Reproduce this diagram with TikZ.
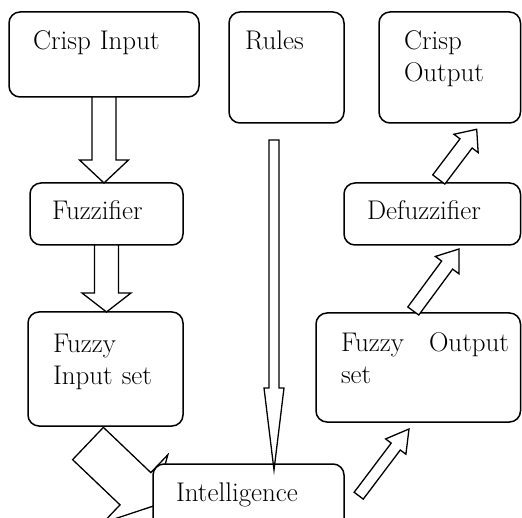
\documentclass[tikz,border=0pt]{standalone}
\usetikzlibrary{calc,backgrounds}

\tikzset{
  blockarrow/.style n args={3}{draw, line width=1.3pt, fill=white, line join=miter,
    to path={
      let \p1=(\tikztostart), \p2=(\tikztotarget),
          \n1={atan2(\y2-\y1,\x2-\x1)} in
      ($(\p1)+(\n1+90:#1)$) -- ($(\p2)!#3!(\p1)+(\n1+90:#1)$)
      -- ($(\p2)!#3!(\p1)+(\n1+90:#2)$) -- (\p2)
      -- ($(\p2)!#3!(\p1)+(\n1-90:#2)$) -- ($(\p2)!#3!(\p1)+(\n1-90:#1)$)
      -- ($(\p1)+(\n1-90:#1)$) -- cycle}}
}

\begin{document}
\begin{tikzpicture}[x=1pt,y=-1pt]

  \tikzstyle{box} = [draw, line width=1.5pt, rounded corners=11pt, fill=white,
    anchor=north west, inner ysep=0pt, outer sep=0pt, align=left,
    font=\fontsize{27}{32}\selectfont]

  \useasboundingbox (0,0) rectangle (522,518);
  \clip (0,0) rectangle (522,518);

  \node[box, inner xsep=24pt, text width=142pt, text height=38pt, text depth=47pt] (CI) at (9,12) {Crisp Input};
  \node[box, inner xsep=16pt, text width=83pt, text height=38pt, text depth=73pt] (R) at (229,12) {Rules};
  \node[box, inner xsep=25pt, text width=91.5pt, text height=38pt, text depth=73pt] (CO) at (379,12) {Crisp\\Output};

  \node[box, inner xsep=22pt, text width=109pt, text height=37pt, text depth=25pt] (FZ) at (30,183) {Fuzzifier};
  \node[box, inner xsep=23pt, text width=130.5pt, text height=37pt, text depth=25pt] (DF) at (344,183) {Defuzzifier};

  \node[box, inner xsep=25pt, text width=105pt, text height=41pt, text depth=73pt] (FI) at (28,312) {Fuzzy\\Input set};
  \node[box, inner xsep=25pt, text width=154.5pt, text height=39pt, text depth=70pt] (FO) at (316,313) {\makebox[168pt][l]{Fuzzy\hfill Output}\\set};

  \node[box, inner xsep=23pt, text width=145pt, text height=37pt, text depth=40pt] (IN) at (153,464) {Intelligence};

  \coordinate (FIout) at ($(FI.south)+(-17.5,17.5)$);
  \coordinate (INin) at ($(IN.north west)+(0.5,42)$);
  \coordinate (Rout) at ($(R.south west)+(45,17)$);
  \coordinate (INout) at ($(IN.north east)+(14.7,31.7)$);
  \coordinate (FOin) at ($(FO.south west)+(93,7)$);
  \coordinate (FOout) at ($(FO.north west)+(97.3,-2)$);
  \coordinate (DFin) at ($(DF.south west)+(115,4)$);
  \coordinate (DFout) at ($(DF.north west)+(94.8,-3.5)$);
  \coordinate (COin) at ($(CO.south west)+(97.7,6.3)$);

  \draw[blockarrow={12pt}{24.5pt}{23pt}] (CI.south) to (CI.south |- FZ.north);
  \draw[blockarrow={12pt}{24.5pt}{19pt}] (FZ.south) to (FZ.south |- FI.north);

  \begin{pgfonlayer}{background}
    \draw[blockarrow={22.3pt}{47pt}{25pt}] (FIout) to (INin);
  \end{pgfonlayer}

  \draw[blockarrow={5pt}{10pt}{82pt}] (Rout) to ($(Rout |- IN.north)+(0,6)$);
  \draw[blockarrow={5.7pt}{12.7pt}{22pt}] (INout) to (FOin);
  \draw[blockarrow={6.8pt}{14.6pt}{20pt}] (FOout) to (DFin);
  \draw[blockarrow={7.6pt}{15.2pt}{17.7pt}] (DFout) to (COin);

\end{tikzpicture}
\end{document}
